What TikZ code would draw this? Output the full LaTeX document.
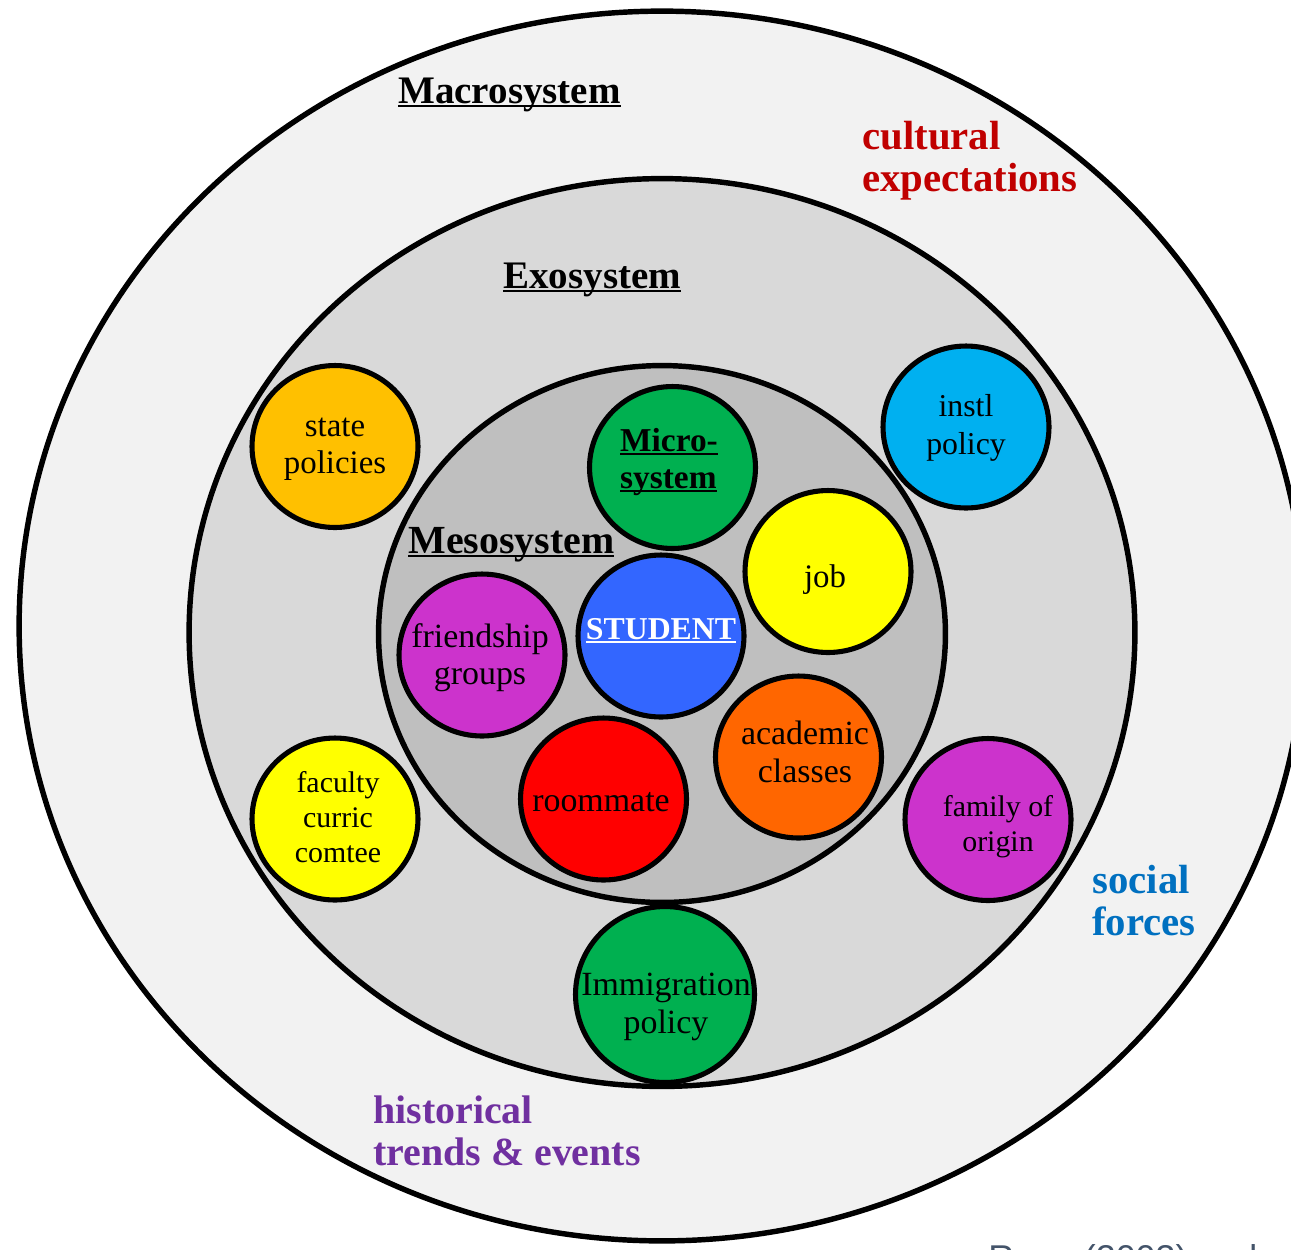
\documentclass[tikz,border=0pt]{standalone}
\usepackage{fontspec}
\setmainfont{Liberation Serif}
\newfontfamily\creditfont{Liberation Sans}
\usetikzlibrary{shapes.geometric}

\definecolor{macrofill}{HTML}{F2F2F2}
\definecolor{exofill}{HTML}{D9D9D9}
\definecolor{mesofill}{HTML}{BFBFBF}
\definecolor{amber}{HTML}{FFC000}
\definecolor{sky}{HTML}{00B0F0}
\definecolor{leaf}{HTML}{00B050}
\definecolor{lemon}{HTML}{FFFF00}
\definecolor{royal}{HTML}{3366FF}
\definecolor{orchid}{HTML}{CC33CC}
\definecolor{tangerine}{HTML}{FF6600}
\definecolor{scarlet}{HTML}{FF0000}
\definecolor{culturered}{HTML}{C00000}
\definecolor{socialblue}{HTML}{0070C0}
\definecolor{histpurple}{HTML}{7030A0}
\definecolor{creditgray}{HTML}{44546A}

% underline with a rule that scales with the font size
\newcommand\sysline[1]{\setbox0\hbox{#1}\rlap{\rule[-0.105em]{\wd0}{0.058em}}\box0}

\tikzset{
  ring/.style={ellipse, draw=black, line width=3.1pt, inner sep=0pt},
  bubble/.style={ellipse, draw=black, line width=2.9pt, inner sep=0pt,
                 minimum width=3.32cm, minimum height=3.24cm},
  bigbubble/.style={bubble, minimum width=3.58cm, minimum height=3.52cm},
  bubbletext/.style={align=center, inner sep=0pt, font=\fontsize{19.3}{21.2}\selectfont},
  smalltext/.style={align=center, inner sep=0pt, font=\fontsize{17}{19.8}\selectfont},
  systitle/.style={anchor=base west, inner sep=0pt, font=\bfseries\fontsize{22.2}{24}\selectfont},
  force/.style={anchor=west, align=left, inner sep=0pt, font=\bfseries\fontsize{23.2}{23.9}\selectfont},
}

\begin{document}
\begin{tikzpicture}[x=0.02cm, y=-0.02cm]
  \useasboundingbox (0,0) rectangle (1291,1249);
  \clip (0,0) rectangle (1291,1249);

  % nested system rings
  \node[ring, fill=macrofill, minimum width=25.72cm, minimum height=24.6cm] (macro) at (662,626) {};
  \node[ring, fill=exofill, minimum width=18.92cm, minimum height=18.16cm] (exo) at (662,632.5) {};
  \node[ring, fill=mesofill, minimum width=11.34cm, minimum height=10.74cm] (meso) at (662,634) {};

  % ring titles
  \node[systitle] (macroT) at (398,103) {\sysline{Macrosystem}};
  \node[systitle] (exoT) at (503,288) {\sysline{Exosystem}};
  \node[systitle, font=\bfseries\fontsize{22.7}{24}\selectfont] (mesoT) at (408,553) {\sysline{Mesosystem}};

  % influences
  \node[bubble, fill=amber] (state) at (335,446.5) {};
  \node[bubbletext, font=\fontsize{18.7}{21.2}\selectfont] (stateT) at (335,449) {state\\policies};

  \node[bubble, fill=sky] (instl) at (966,427) {};
  \node[bubbletext, font=\fontsize{18.1}{21.2}\selectfont] (instlT) at (966,428) {instl\\policy};

  \node[bubble, fill=leaf] (micro) at (672.5,467.5) {};
  \node[bubbletext, align=left, font=\bfseries\fontsize{19}{21.2}\selectfont] (microT) at (669,462) {\sysline{Micro-}\\\sysline{system}};

  \node[bubble, fill=lemon] (job) at (828,571.5) {};
  \node[bubbletext, font=\fontsize{18.7}{21}\selectfont] (jobT) at (825,580) {job};

  \node[bubble, fill=royal] (student) at (661,636) {};
  \node[bubbletext, text=white, font=\bfseries\fontsize{18.1}{21}\selectfont] (studentT) at (661,631) {\sysline{STUDENT}};

  \node[bubble, fill=orchid] (friends) at (482,655) {};
  \node[bubbletext] (friendsT) at (480,658) {friendship\\groups};

  \node[bubble, fill=tangerine] (academic) at (798.5,757) {};
  \node[bubbletext] (academicT) at (805,752) {academic\\classes};

  \node[bubble, fill=scarlet] (roommate) at (603.5,799) {};
  \node[bubbletext] (roommateT) at (601,802) {roommate};

  \node[bubble, fill=lemon] (faculty) at (335,819) {};
  \node[smalltext] (facultyT) at (338,817) {faculty\\curric\\comtee};

  \node[bubble, fill=orchid] (family) at (988,819.5) {};
  \node[smalltext] (familyT) at (998,827) {family of\\origin};

  \node[bigbubble, fill=leaf] (immig) at (665,994.5) {};
  \node[bubbletext] (immigT) at (666,1007) {Immigration\\policy};

  % broader forces
  \node[force, text=culturered] (culture) at (862,161) {cultural\\expectations};
  \node[force, text=socialblue] (social) at (1092,901) {social\\forces};
  \node[force, text=histpurple, font=\bfseries\fontsize{22.7}{23.9}\selectfont] (history) at (373,1131) {historical\\trends \& events};

  % source line
  \node[anchor=base west, inner sep=0pt, text=creditgray, font=\creditfont\fontsize{20.4}{24}\selectfont] (source) at (988,1270) {Renn (2003) and};
\end{tikzpicture}
\end{document}
